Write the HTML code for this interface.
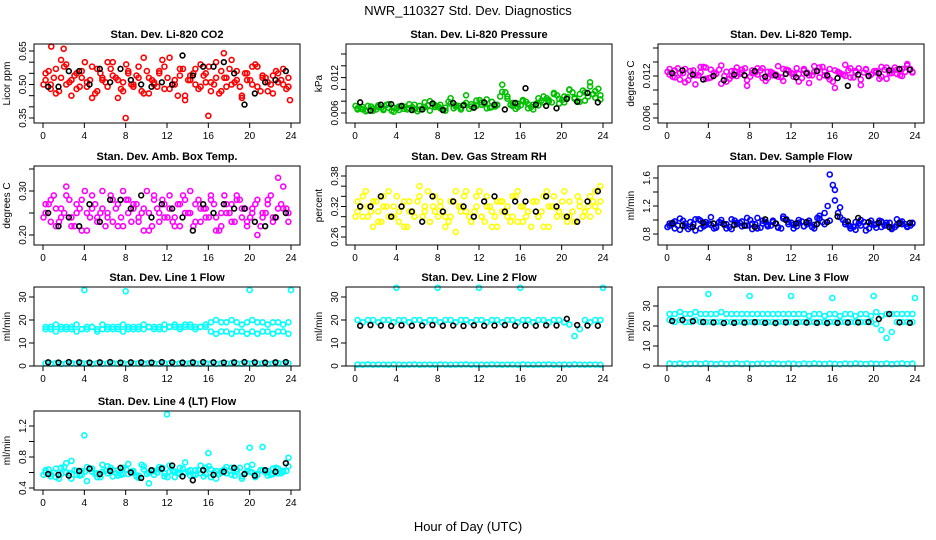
<!DOCTYPE html>
<html><head><meta charset="utf-8"><style>
body{margin:0;background:#fff}
svg{display:block;font-family:"Liberation Sans",sans-serif}
</style></head><body>
<svg id="chart" width="936" height="540" viewBox="0 0 936 540">
<rect width="936" height="540" fill="#fff"/>
<text x="468" y="15" text-anchor="middle" font-size="13">NWR_110327  Std. Dev. Diagnostics</text>
<text x="468" y="531" text-anchor="middle" font-size="13">Hour of Day (UTC)</text>
</svg>
<script>
// ---------- data ----------
const xTicks = [0,4,8,12,16,20,24];
// Li-820 CO2 (units 0.01 ppm)
const co2A = [52,48,57,61,50,45,55,53,49,58,47,52,60,54,44,51,56,49,53,62,46,50,55,58,48,52,57,43,54,50,59,51,47,53,56,49,61,52,45,55,50,58,53,47,54,51,57,49];
const co2B = [55,50,46,53,59,52,48,56,51,44,57,53,49,60,52,47,55,50,58,46,53,51,56,48,62,50,54,45,52,57,49,55,51,60,47,53,50,56,44,52,58,49,54,51,46,55,50,53];
const co2C = [50,56,53,47,58,51,54,49,60,52,46,55,51,57,53,48,59,50,54,47,56,52,49,61,53,50,45,57,52,55,48,54,58,50,46,53,57,51,49,55,52,59,47,53,50,56,52,48];
const co2Out = [67,66,35,36,64,43];
const co2OutH = [0.8,2.0,8.0,16.0,17.5,23.9];
const co2K = [49,49,56,56,50,57,51,57,52,50,49,51,50,63,54,58,58,60,55,41,46,51,52,56];
// Pressure (units 0.0001 kPa)
const presA = [68,66,72,64,70,67,75,69,65,71,68,74,66,70,80,73,68,64,76,71,69,90,75,72,78,83,70,74,96,88,72,76,80,68,74,85,78,82,92,76,88,100,84,79,95,105,86,90];
const presB = [66,70,64,68,73,65,69,62,71,67,75,66,72,78,64,70,74,69,85,73,66,77,71,81,74,68,79,73,108,84,77,70,82,75,66,73,88,79,94,84,78,99,86,92,81,112,97,83];
const presC = [72,67,63,71,66,69,74,64,68,72,66,70,63,67,73,76,71,65,79,68,72,74,67,70,82,76,69,71,88,95,74,67,73,79,70,76,81,85,78,90,82,87,95,80,98,88,92,101];
const presK = [78,64,74,75,72,65,66,76,65,77,73,69,78,74,66,77,102,74,72,68,84,79,94,78];
// Li-820 Temp (units 0.0001 C)
const tempA = [122,128,115,130,120,108,125,132,118,123,135,112,127,120,129,106,124,131,117,126,121,134,113,128,119,123,130,110,126,132,121,115,128,123,136,118,125,107,130,122,127,133,116,124,129,120,135,126];
const tempB = [130,118,124,111,127,121,133,116,129,123,109,126,120,132,125,114,128,122,131,117,124,119,130,127,123,112,128,121,134,118,126,130,103,124,120,131,127,115,129,122,125,119,132,128,123,130,137,125];
const tempC = [126,119,131,124,114,128,121,133,117,125,129,120,116,127,123,131,119,125,128,113,126,122,118,129,124,131,117,125,121,127,133,119,112,126,122,128,118,131,125,120,127,116,129,124,132,121,126,130];
const tempK = [124,128,122,115,120,114,122,121,127,119,121,123,118,124,127,121,117,106,122,120,124,128,130,129];
// Amb box temp (units 0.01 C)
const ambA = [25,28,22,26,31,24,27,21,25,29,23,26,24,28,22,30,25,27,23,26,21,28,25,24,29,22,27,25,30,23,26,24,28,21,25,27,23,29,26,22,25,28,24,27,23,33,26,25];
const ambB = [27,23,26,24,29,22,25,28,21,26,24,30,25,23,27,22,28,26,24,21,25,29,23,27,26,24,22,28,25,27,23,26,29,24,22,25,27,28,24,23,26,20,25,28,24,26,31,23];
const ambC = [24,27,29,23,25,28,22,26,30,24,27,25,22,29,26,24,28,23,27,25,30,22,26,28,24,23,27,29,25,22,28,26,24,27,21,29,25,23,28,26,24,27,22,25,29,24,27,26];
const ambK = [25,22,24,22,27,23,28,28,26,29,24,27,26,24,21,27,25,27,26,26,23,22,24,25];
// Gas stream RH (units 0.01 percent)
const rhA = [31,34,30,33,29,32,35,30,31,28,33,30,36,31,29,34,32,30,33,27,31,35,29,32,30,34,31,28,33,32,30,35,29,31,33,30,34,28,32,31,35,30,29,33,31,34,32,36];
const rhB = [33,30,32,28,31,34,30,32,29,33,31,30,34,32,29,31,33,28,30,35,32,31,29,34,30,32,28,33,31,30,34,29,32,31,33,30,28,32,34,31,30,33,29,32,31,30,35,33];
const rhC = [30,32,35,31,33,29,32,30,34,32,28,31,33,30,35,32,30,31,29,33,32,34,30,31,35,29,32,30,33,31,29,34,32,30,28,33,31,35,32,30,33,29,31,34,30,32,33,31];
const rhK = [32,32,34,30,32,31,29,34,31,33,32,30,33,34,31,33,33,31,34,32,30,29,33,35];
// Sample flow (units 0.01 ml/min)
const sfA = [95,88,102,91,97,85,99,93,104,90,96,88,101,94,98,92,87,103,95,91,99,89,105,97,93,100,91,96,88,102,94,99,143,118,97,91,86,100,92,95,89,98,93,87,101,94,90,96];
const sfB = [92,98,86,95,90,101,88,97,93,89,100,94,87,96,91,103,95,88,99,93,97,90,102,94,88,96,91,99,93,106,110,165,128,104,94,88,97,92,85,99,94,90,96,89,93,98,91,95];
const sfC = [90,96,92,99,87,94,101,91,95,88,97,93,90,99,96,92,100,94,89,97,92,95,88,101,96,91,98,94,90,103,97,120,150,110,100,93,90,95,97,88,93,99,92,96,90,97,94,92];
const sfK = [95,92,90,96,95,94,93,92,90,101,95,100,95,97,94,97,105,98,103,97,96,90,95,96];
// Line 1 flow (ml/min)
const l1A = [17,16,18,17,16,17,18,16,17,17,16,18,17,16,17,18,17,16,17,18,17,17,16,18,17,18,17,17,18,17,17,18,19,20,19,19,20,19,18,19,20,19,19,18,19,19,18,19];
const l1B = [16,17,15,16,17,16,15,16,16,17,15,16,16,17,16,15,16,17,16,16,17,16,17,16,17,17,16,18,17,16,17,17,15,14,15,15,14,15,15,14,15,14,15,15,14,15,15,14];
const l1Low = [1.2,1.0,1.3,0.9,1.1,1.2,1.0,1.3,1.1,0.9,1.2,1.0,1.1,1.3,1.0,1.2,0.9,1.1,1.2,1.0,1.3,1.1,1.0,1.2,1.1,0.9,1.2,1.0,1.3,1.1,1.0,1.2,1.1,0.9,1.2,1.0,1.3,1.1,1.0,1.2,1.1,1.0,1.2,0.9,1.1,1.3,1.0,1.2];
const l1Out = [33,32.5,33,33];
const l1OutH = [4,8,20,24];
const l1K = [1.6,1.5,1.7,1.6,1.5,1.6,1.7,1.5,1.6,1.6,1.5,1.7,1.6,1.5,1.6,1.7,1.6,1.5,1.6,1.7,1.6,1.5,1.6,1.7];
// Line 2 flow
const l2A = [20,19,20,20,19,20,20,19,20,20,19,20,20,19,20,20,19,20,20,19,20,20,19,20,20,19,20,20,19,20,20,19,20,20,19,20,20,19,20,20,19,18,13,16,20,19,20,20];
const l2Low = [0.6,0.5,0.7,0.5,0.6,0.6,0.5,0.7,0.6,0.5,0.6,0.7,0.5,0.6,0.6,0.5,0.7,0.6,0.5,0.6,0.6,0.7,0.5,0.6,0.6,0.5,0.7,0.6,0.5,0.6,0.6,0.5,0.7,0.6,0.5,0.6,0.6,0.7,0.5,0.6,0.6,0.5,0.7,0.6,0.5,0.6,0.6,0.5];
const l2Out = [34,34,34,34,34];
const l2OutH = [4,8,12,16,24];
const l2K = [17.5,17.8,17.6,17.4,17.7,17.5,17.6,17.8,17.5,17.6,17.4,17.7,17.5,17.6,17.8,17.5,17.6,17.5,17.7,17.6,20.5,17.8,17.6,17.5];
// Line 3 flow
const l3A = [26,26,27,26,26,27,26,26,26,26,27,26,26,26,26,26,26,26,26,26,26,26,26,26,26,26,26,25,26,26,25,26,26,25,26,26,25,26,26,25,27,25,26,26,26,26,26,26];
const l3B = [23,22,23,22,22,23,22,22,22,22,22,22,22,22,22,22,22,22,22,22,22,22,22,22,22,22,22,22,22,22,22,22,22,22,22,22,22,22,22,22,21,18,14,17,22,22,22,22];
const l3Low = [1.2,1.0,1.3,0.9,1.1,1.2,1.0,1.3,1.1,0.9,1.2,1.0,1.1,1.3,1.0,1.2,0.9,1.1,1.2,1.0,1.3,1.1,1.0,1.2,1.1,0.9,1.2,1.0,1.3,1.1,1.0,1.2,1.1,0.9,1.2,1.0,1.3,1.1,1.0,1.2,1.1,1.0,1.2,0.9,1.1,1.3,1.0,1.2];
const l3Out = [36,35,35,34,35,34];
const l3OutH = [4,8,12,16,20,24];
const l3K = [22.5,23,22.4,22,21.8,21.5,21.6,21.7,21.9,21.6,21.5,21.8,21.6,21.7,21.6,21.5,21.6,21.7,21.8,22,23.5,26,21.8,21.6];
// Line 4 flow (units 0.01 ml/min)
const l4A = [60,55,65,58,72,52,62,57,67,61,54,70,59,63,56,66,58,62,53,68,60,57,64,55,69,61,58,73,56,63,59,66,54,62,60,67,57,64,52,61,70,58,63,56,65,59,62,68];
const l4B = [63,58,54,66,60,75,57,62,49,65,59,61,68,55,63,58,71,60,56,64,46,62,67,59,61,54,66,60,63,57,69,58,64,52,62,59,66,61,55,68,60,57,93,62,58,65,61,79];
const l4C = [57,64,60,52,67,59,63,56,61,65,58,54,62,66,59,57,64,61,55,70,58,63,60,66,54,62,59,65,61,57,63,55,68,60,58,64,62,56,66,59,61,54,63,60,57,66,59,62];
const l4Out = [108,135,85,92];
const l4OutH = [4,12,16,20];
const l4K = [58,57,56,62,65,58,62,66,60,53,63,65,69,55,50,63,57,61,66,58,56,63,61,72];

// ---------- drawing ----------
const NS = "http://www.w3.org/2000/svg";
const svg = document.getElementById('chart');
const hrs48 = co2A.map((_, i) => 0.25 + i * 0.5);
const hrsC = co2C.map((_, i) => 0.05 + i * 0.5);
const hrs24 = co2K.map((_, i) => 0.5 + i);
function mk(tag, attrs, parent) {
  const e = document.createElementNS(NS, tag);
  for (const k in attrs) e.setAttribute(k, attrs[k]);
  parent.appendChild(e);
  return e;
}
const panels = [
  {name:'co2',title:'Stan. Dev. Li-820 CO2',yl:'Licor ppm',col:0,row:0,a:[0.35,118],b:[0.65,51],ticks:[0.35,0.40,0.45,0.50,0.55,0.60,0.65],labels:['0.35','0.50','0.65'],lv:[0.35,0.5,0.65],color:'#ff0000',
   series:[[co2A,0.01,hrs48],[co2B,0.01,hrs48],[co2C,0.01,hrsC],[co2Out,0.01,co2OutH]],k:[co2K,0.01]},
  {name:'pressure',title:'Stan. Dev. Li-820 Pressure',yl:'kPa',col:1,row:0,a:[0.006,113],b:[0.012,77.6],ticks:[0.006,0.008,0.010,0.012,0.014,0.016],labels:['0.006','0.012'],lv:[0.006,0.012],color:'#00c000',
   series:[[presA,0.0001,hrs48],[presB,0.0001,hrs48],[presC,0.0001,hrsC]],k:[presK,0.0001]},
  {name:'li820-temp',title:'Stan. Dev. Li-820 Temp.',yl:'degrees C',col:2,row:0,a:[0.006,118],b:[0.012,76],ticks:[0.006,0.008,0.010,0.012,0.014,0.016],labels:['0.006','0.012'],lv:[0.006,0.012],color:'#ff00ff',
   series:[[tempA,0.0001,hrs48],[tempB,0.0001,hrs48],[tempC,0.0001,hrsC]],k:[tempK,0.0001]},
  {name:'amb-temp',title:'Stan. Dev. Amb. Box Temp.',yl:'degrees C',col:0,row:1,a:[0.20,235],b:[0.30,191],ticks:[0.20,0.25,0.30,0.35],labels:['0.20','0.30'],lv:[0.2,0.3],color:'#ff00ff',
   series:[[ambA,0.01,hrs48],[ambB,0.01,hrs48],[ambC,0.01,hrsC]],k:[ambK,0.01]},
  {name:'rh',title:'Stan. Dev. Gas Stream RH',yl:'percent',col:1,row:1,a:[0.26,237],b:[0.38,176],ticks:[0.26,0.28,0.30,0.32,0.34,0.36,0.38],labels:['0.26','0.32','0.38'],lv:[0.26,0.32,0.38],color:'#ffff00',
   series:[[rhA,0.01,hrs48],[rhB,0.01,hrs48],[rhC,0.01,hrsC]],k:[rhK,0.01]},
  {name:'sample-flow',title:'Stan. Dev. Sample Flow',yl:'ml/min',col:2,row:1,a:[0.8,234],b:[1.6,178],ticks:[0.8,1.0,1.2,1.4,1.6],labels:['0.8','1.2','1.6'],lv:[0.8,1.2,1.6],color:'#0000ff',
   series:[[sfA,0.01,hrs48],[sfB,0.01,hrs48],[sfC,0.01,hrsC]],k:[sfK,0.01]},
  {name:'line1-flow',title:'Stan. Dev. Line 1 Flow',yl:'ml/min',col:0,row:2,a:[0,366],b:[30,297],ticks:[0,10,20,30],labels:['0','10','20','30'],lv:[0,10,20,30],color:'#00ffff',
   series:[[l1A,1,hrs48],[l1B,1,hrs48],[l1Low,1,hrs48],[l1Out,1,l1OutH]],k:[l1K,1]},
  {name:'line2-flow',title:'Stan. Dev. Line 2 Flow',yl:'ml/min',col:1,row:2,a:[0,366],b:[30,297],ticks:[0,10,20,30],labels:['0','10','20','30'],lv:[0,10,20,30],color:'#00ffff',
   series:[[l2A,1,hrs48],[l2Low,1,hrs48],[l2Out,1,l2OutH]],k:[l2K,1]},
  {name:'line3-flow',title:'Stan. Dev. Line 3 Flow',yl:'ml/min',col:2,row:2,a:[0,366],b:[30,306],ticks:[0,10,20,30],labels:['0','10','20','30'],lv:[0,10,20,30],color:'#00ffff',
   series:[[l3A,1,hrs48],[l3B,1,hrs48],[l3Low,1,hrs48],[l3Out,1,l3OutH]],k:[l3K,1]},
  {name:'line4-flow',title:'Stan. Dev. Line 4 (LT) Flow',yl:'ml/min',col:0,row:3,a:[0.4,488],b:[1.2,426],ticks:[0.4,0.6,0.8,1.0,1.2],labels:['0.4','0.8','1.2'],lv:[0.4,0.8,1.2],color:'#00ffff',
   series:[[l4A,0.01,hrs48],[l4B,0.01,hrs48],[l4C,0.01,hrsC],[l4Out,0.01,l4OutH]],k:[l4K,0.01]}
];
const tops = [44,166,287,411];
panels.forEach(p => {
  const left = 34 + 312 * p.col, top = tops[p.row], w = 266, h = 79, bottom = top + h;
  const g = mk('g', {}, svg);
  
  
  const xs = v => left + 9 + v * 248 / 24;
  const ys = v => p.a[1] + (v - p.a[0]) * (p.b[1] - p.a[1]) / (p.b[0] - p.a[0]);
  const t = mk('text', {x: left + w / 2, y: top - 6, 'text-anchor': 'middle', 'font-size': 11, 'font-weight': 'bold'}, g);
  t.textContent = p.title;
  
  
  const pts = mk('g', {fill: 'none', stroke: p.color, 'stroke-width': 1.6}, g);
  
  
  p.series.forEach(s => {
    s[0].forEach((v, i) => {
      const c = mk('circle', {cx: xs(s[2][i]), cy: ys(v * s[1]), r: 2.5}, pts);
      
      
    });
  });
  const kp = mk('g', {fill: 'none', stroke: '#000', 'stroke-width': 1.6}, g);
  
  
  p.k[0].forEach((v, i) => {
    const c = mk('circle', {cx: xs(hrs24[i]), cy: ys(v * p.k[1]), r: 2.4}, kp);
    
    
  });
  const bx = mk('rect', {x: left, y: top, width: w, height: h, fill: 'none', stroke: '#000', 'stroke-width': 1}, g);
  
  
  xTicks.forEach(v => {
    mk('line', {x1: xs(v), x2: xs(v), y1: bottom, y2: bottom + 5, stroke: '#000'}, g);
    const l = mk('text', {x: xs(v), y: bottom + 16, 'text-anchor': 'middle', 'font-size': 10}, g);
    l.textContent = v;
    
    
  });
  p.ticks.forEach(v => {
    const y = ys(v);
    if (y >= top - 1 && y <= bottom + 1) mk('line', {x1: left - 5, x2: left, y1: y, y2: y, stroke: '#000'}, g);
  });
  p.labels.forEach((s, i) => {
    const y = ys(p.lv[i]);
    const l = mk('text', {x: left - 8, y: y, 'text-anchor': 'middle', 'font-size': 10, transform: `rotate(-90 ${left - 8} ${y})`}, g);
    l.textContent = s;
    
    
  });
  const cy = top + h / 2;
  const yl = mk('text', {x: left - 24, y: cy, 'text-anchor': 'middle', 'font-size': 10, transform: `rotate(-90 ${left - 24} ${cy})`}, g);
  yl.textContent = p.yl;
  
  
});
</script>
</body></html>
